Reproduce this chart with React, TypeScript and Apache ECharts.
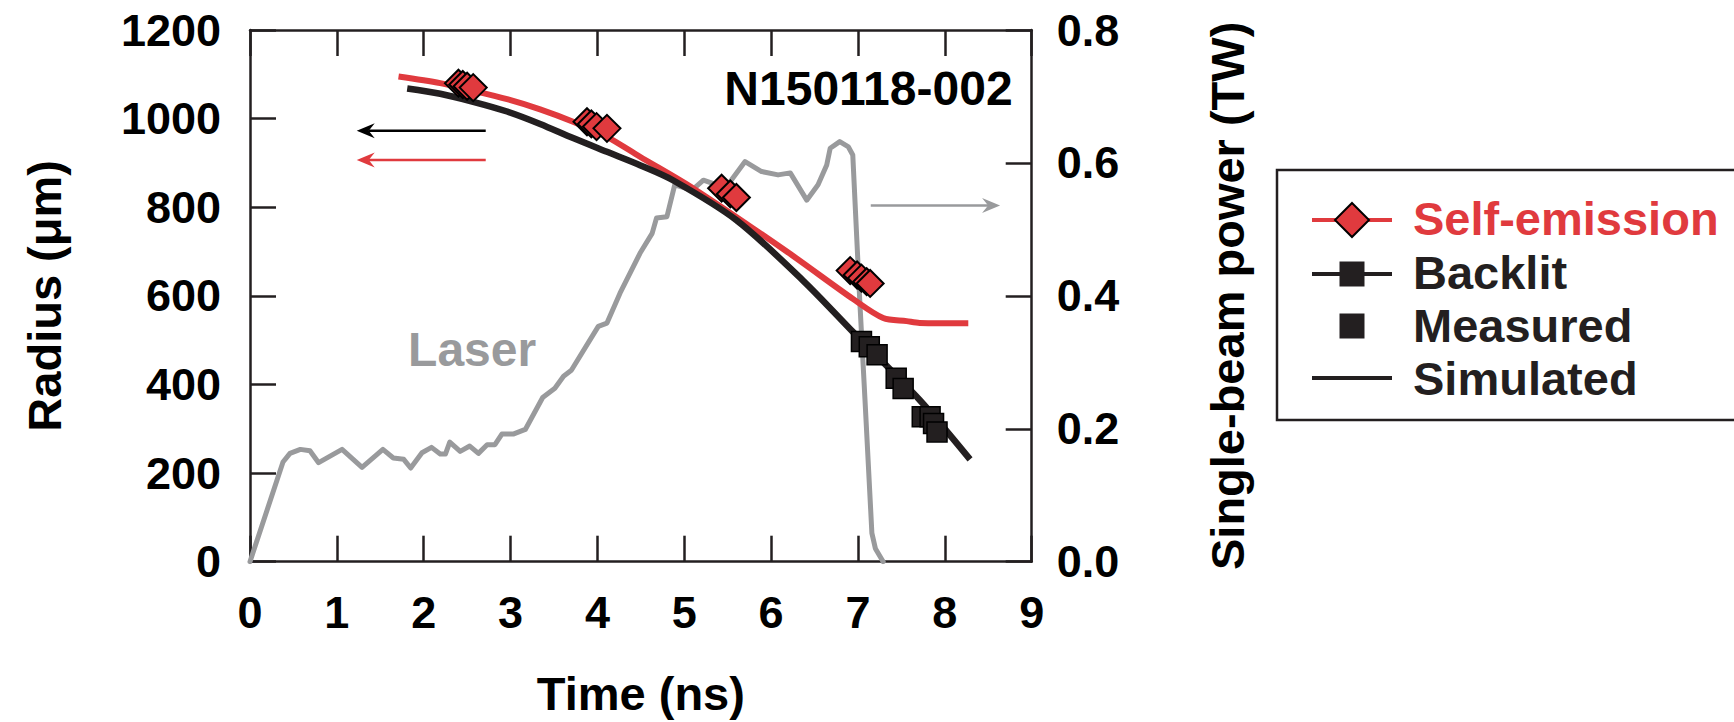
import React, { useEffect, useRef } from "react";
import * as echarts from "echarts";

// Laser pulse (single-beam power, TW) vs time (ns)
const laserTime = [0, 0.38, 0.46, 0.58, 0.69, 0.79, 1.06, 1.29, 1.53, 1.65, 1.77, 1.85, 1.98, 2.09, 2.19, 2.25, 2.30, 2.42, 2.53, 2.63, 2.73, 2.82, 2.90, 3.03, 3.17, 3.37, 3.51, 3.61, 3.70, 4.01, 4.11, 4.26, 4.49, 4.63, 4.68, 4.80, 4.89, 5.09, 5.22, 5.40, 5.53, 5.70, 5.89, 6.08, 6.22, 6.41, 6.54, 6.64, 6.68, 6.79, 6.89, 6.94, 7.02, 7.08, 7.16, 7.20, 7.29];
const laserPower = [0, 0.150, 0.163, 0.169, 0.167, 0.149, 0.169, 0.142, 0.169, 0.156, 0.154, 0.141, 0.164, 0.172, 0.162, 0.162, 0.180, 0.166, 0.174, 0.163, 0.176, 0.176, 0.192, 0.192, 0.199, 0.247, 0.261, 0.279, 0.288, 0.354, 0.359, 0.404, 0.464, 0.494, 0.517, 0.519, 0.567, 0.559, 0.574, 0.566, 0.572, 0.602, 0.587, 0.582, 0.585, 0.544, 0.567, 0.597, 0.622, 0.632, 0.624, 0.612, 0.394, 0.245, 0.043, 0.020, 0];

// Self-emission: simulated radius (line) and measured radius (diamonds)
const selfSimTime = [1.71, 2.19, 2.57, 2.96, 3.34, 3.72, 4.11, 4.49, 5.10, 6.18, 6.95, 7.29, 7.56, 7.71, 8.27];
const selfSimRadius = [1095, 1080, 1063, 1044, 1021, 993, 959, 914, 843, 700, 592, 550, 543, 539, 538];
const selfMeasTime = [2.40, 2.45, 2.50, 2.57, 3.88, 3.93, 3.99, 4.11, 5.43, 5.53, 5.60, 6.91, 6.99, 7.04, 7.10, 7.14];
const selfMeasRadius = [1080, 1077, 1073, 1070, 993, 988, 982, 978, 843, 830, 822, 657, 647, 640, 632, 628];

// Backlit: simulated radius (line) and measured radius (squares)
const backSimTime = [1.81, 2.19, 2.57, 2.96, 3.34, 3.72, 4.11, 4.49, 4.87, 5.60, 6.37, 6.95, 7.71, 8.29];
const backSimRadius = [1068, 1056, 1038, 1016, 988, 956, 925, 895, 861, 771, 634, 517, 365, 231];
const backMeasTime = [7.04, 7.13, 7.22, 7.44, 7.52, 7.74, 7.83, 7.87, 7.91];
const backMeasRadius = [497, 485, 467, 414, 391, 327, 327, 312, 293];

const legendLabels = ["Self-emission", "Backlit", "Measured", "Simulated"];

const RED = "#e03a3e";
const INK = "#231f20";
const GRAY = "#999a9c";
const FONT = "Liberation Sans";

const zip = (a: number[], b: number[]) => a.map((v, i) => [v, b[i]]);

export default function App() {
  const ref = useRef<HTMLDivElement>(null);

  useEffect(() => {
    const chart = echarts.init(ref.current!, null, { renderer: "svg" });
    const axisLine = { show: true, onZero: false, lineStyle: { color: INK, width: 2.5 } };
    const tick = { show: true, inside: true, length: 26, lineStyle: { color: INK, width: 2.5 } };
    const label = { color: "#000", fontSize: 45, fontWeight: "bold", fontFamily: FONT };
    const nameStyle = { color: "#000", fontSize: 47, fontWeight: "bold", fontFamily: FONT };

    chart.setOption({
      animation: false,
      grid: { left: 250, top: 30, width: 781.7, height: 531.7 },
      xAxis: [
        {
          type: "value", position: "bottom", min: 0, max: 9, interval: 1,
          axisLine, axisTick: tick, splitLine: { show: false },
          axisLabel: { ...label, margin: 28 },
          name: "Time (ns)", nameLocation: "middle", nameGap: 108, nameTextStyle: nameStyle,
        },
        {
          type: "value", position: "top", min: 0, max: 9, interval: 1,
          axisLine, axisTick: tick, splitLine: { show: false }, axisLabel: { show: false },
        },
      ],
      yAxis: [
        {
          type: "value", position: "left", min: 0, max: 1200, interval: 200,
          axisLine, axisTick: tick, splitLine: { show: false },
          axisLabel: { ...label, margin: 29, formatter: (v: number) => String(v) },
          name: "Radius (μm)", nameLocation: "middle", nameRotate: 90, nameGap: 182, nameTextStyle: nameStyle,
        },
        {
          type: "value", position: "right", min: 0, max: 0.8, interval: 0.2,
          axisLine, axisTick: tick, splitLine: { show: false },
          axisLabel: { ...label, margin: 25, formatter: (v: number) => v.toFixed(1) },
          name: "Single-beam power (TW)", nameLocation: "middle", nameRotate: 90, nameGap: 172, nameTextStyle: nameStyle,
        },
      ],
      series: [
        {
          name: "Laser", type: "line", xAxisIndex: 0, yAxisIndex: 1, z: 1,
          data: zip(laserTime, laserPower), symbol: "none", showSymbol: false,
          lineStyle: { color: GRAY, width: 5, join: "round", cap: "round" }, silent: true,
        },
        {
          name: "Self-emission simulated", type: "line", yAxisIndex: 0, z: 2,
          data: zip(selfSimTime, selfSimRadius), symbol: "none", showSymbol: false, smooth: 0.3,
          lineStyle: { color: RED, width: 6 }, silent: true,
        },
        {
          name: "Backlit simulated", type: "line", yAxisIndex: 0, z: 2,
          data: zip(backSimTime, backSimRadius), symbol: "none", showSymbol: false, smooth: 0.3,
          lineStyle: { color: INK, width: 6.5 }, silent: true,
        },
        {
          name: "Self-emission measured", type: "scatter", yAxisIndex: 0, z: 3,
          data: zip(selfMeasTime, selfMeasRadius), symbol: "diamond", symbolSize: 27,
          itemStyle: { color: RED, borderColor: "#000", borderWidth: 2, opacity: 1 },
        },
        {
          name: "Backlit measured", type: "scatter", yAxisIndex: 0, z: 3,
          data: zip(backMeasTime, backMeasRadius), symbol: "rect", symbolSize: 20,
          itemStyle: { color: INK, borderColor: "#000", borderWidth: 1.5, opacity: 1 },
        },
      ],
    });

    const px = (t: number, v: number, yAxis: number) =>
      chart.convertToPixel({ xAxisIndex: 0, yAxisIndex: yAxis }, [t, v]) as number[];

    const arrow = (from: number[], to: number[], color: string) => {
      const dir = Math.sign(to[0] - from[0]);
      const headLen = 18, half = 7.5, notch = 6;
      const back = to[0] - dir * headLen;
      return [
        { type: "line", shape: { x1: from[0], y1: from[1], x2: back + dir * notch, y2: to[1] }, style: { stroke: color, lineWidth: 2.5 }, z: 5 },
        {
          type: "polygon",
          shape: { points: [[to[0], to[1]], [back, to[1] - half], [back + dir * notch, to[1]], [back, to[1] + half]] },
          style: { fill: color }, z: 5,
        },
      ];
    };

    const nPos = px(8.78, 1069, 0);
    const laserPos = px(1.82, 0.319, 1);

    const lx1 = 1312, lx2 = 1392, lcx = 1352, tx = 1413;
    const rows = [218, 272, 325, 378];
    const diamond = (cx: number, cy: number, s: number) => [[cx, cy - s / 2], [cx + s / 2, cy], [cx, cy + s / 2], [cx - s / 2, cy]];
    const legendText = (i: number, color: string) => ({
      type: "text", x: tx, y: rows[i], z: 10,
      style: { text: legendLabels[i], fill: color, font: `bold 47px ${FONT}`, textAlign: "left", textVerticalAlign: "middle" },
    });

    chart.setOption({
      graphic: [
        ...arrow(px(2.714, 972.7, 0), px(1.229, 972.7, 0), "#000"),
        ...arrow(px(2.714, 906.6, 0), px(1.229, 906.6, 0), RED),
        ...arrow(px(7.147, 0.536, 1), px(8.636, 0.536, 1), GRAY),
        {
          type: "text", x: nPos[0], y: nPos[1], z: 10,
          style: { text: "N150118-002", fill: "#000", font: `bold 48px ${FONT}`, textAlign: "right", textVerticalAlign: "middle" },
        },
        {
          type: "text", x: laserPos[0], y: laserPos[1], z: 10,
          style: { text: "Laser", fill: GRAY, font: `bold 48px ${FONT}`, textAlign: "left", textVerticalAlign: "middle" },
        },
        { type: "rect", shape: { x: 1277, y: 170, width: 480, height: 250 }, style: { fill: "none", stroke: INK, lineWidth: 2.5 }, z: 10 },
        { type: "line", shape: { x1: lx1, y1: rows[0] + 2, x2: lx2, y2: rows[0] + 2 }, style: { stroke: RED, lineWidth: 4 }, z: 10 },
        { type: "polygon", shape: { points: diamond(lcx, rows[0] + 2, 34) }, style: { fill: RED, stroke: "#000", lineWidth: 2 }, z: 11 },
        legendText(0, RED),
        { type: "line", shape: { x1: lx1, y1: rows[1] + 2, x2: lx2, y2: rows[1] + 2 }, style: { stroke: INK, lineWidth: 4 }, z: 10 },
        { type: "rect", shape: { x: lcx - 12.5, y: rows[1] + 2 - 12.5, width: 25, height: 25 }, style: { fill: INK }, z: 11 },
        legendText(1, INK),
        { type: "rect", shape: { x: lcx - 12.5, y: rows[2] + 1 - 12.5, width: 25, height: 25 }, style: { fill: INK }, z: 11 },
        legendText(2, INK),
        { type: "line", shape: { x1: lx1, y1: rows[3], x2: lx2, y2: rows[3] }, style: { stroke: INK, lineWidth: 4 }, z: 10 },
        legendText(3, INK),
      ],
    });

    return () => chart.dispose();
  }, []);

  return <div ref={ref} style={{ position: "fixed", left: 0, top: 0, width: 1734, height: 722, background: "#fff" }} />;
}
